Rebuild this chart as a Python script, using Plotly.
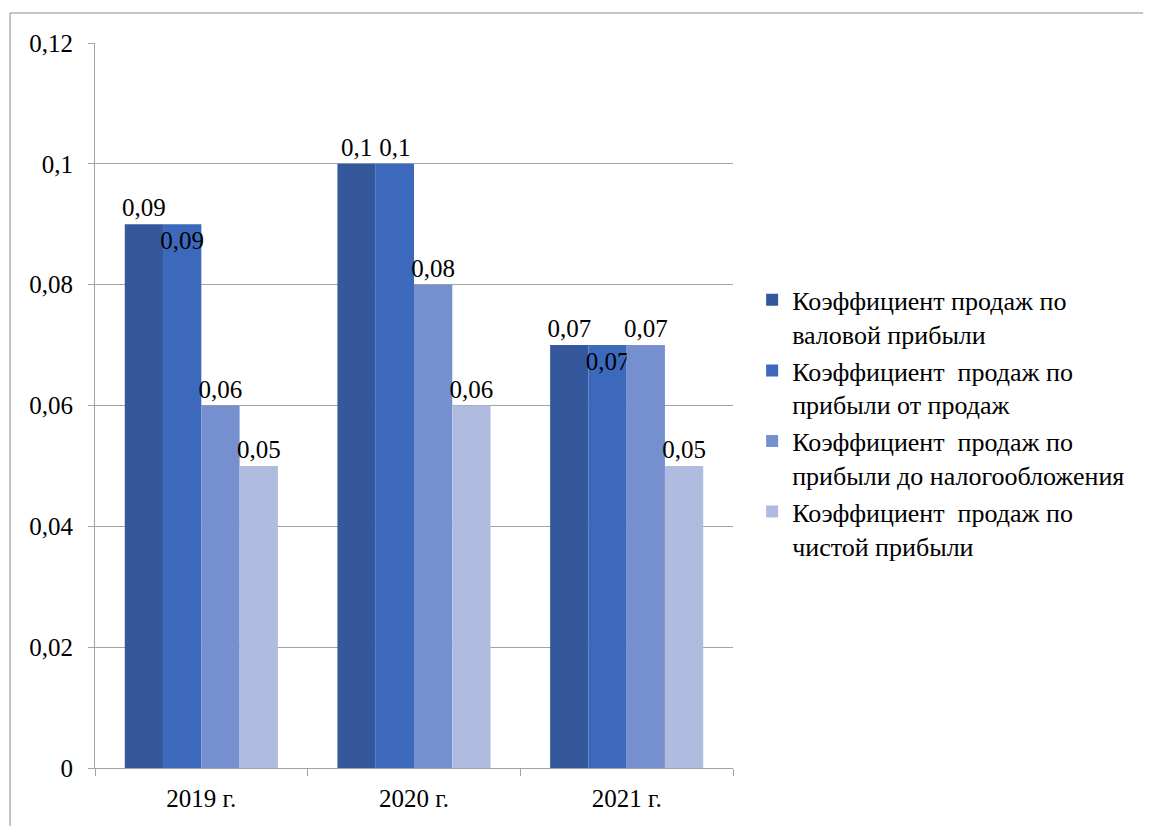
import plotly.graph_objects as go

# Data
YEARS = ["2019 г.", "2020 г.", "2021 г."]

SERIES_NAMES = [
    "Коэффициент продаж по<br>валовой прибыли",
    "Коэффициент  продаж по<br>прибыли от продаж",
    "Коэффициент  продаж по<br>прибыли до налогообложения",
    "Коэффициент  продаж по<br>чистой прибыли",
]
GROSS_PROFIT = [0.09, 0.10, 0.07]
SALES_PROFIT = [0.09, 0.10, 0.07]
PRETAX_PROFIT = [0.06, 0.08, 0.07]
NET_PROFIT = [0.05, 0.06, 0.05]

Y_TICKS = [0, 0.02, 0.04, 0.06, 0.08, 0.10, 0.12]

COLORS = ["#35589c", "#3d69bd", "#7690cf", "#b0bbe0"]
# where each label sits (the reference pushes two labels into the bar)
LABEL_POS = [
    ["outside", "outside", "outside"],
    ["inside", "outside", "inside"],
    ["outside", "outside", "outside"],
    ["outside", "outside", "outside"],
]

FONT = "Liberation Serif"
GRID = "#a3a3a3"


def fmt(v):
    return str(round(v, 4)).replace(".", ",")


fig = go.Figure()
for name, vals, color, pos in zip(SERIES_NAMES,
                                  [GROSS_PROFIT, SALES_PROFIT, PRETAX_PROFIT, NET_PROFIT],
                                  COLORS, LABEL_POS):
    fig.add_trace(go.Bar(
        x=YEARS, y=vals, name=name,
        marker=dict(color=color, line=dict(width=0)),
        text=[fmt(v) for v in vals],
        textposition=pos,
        insidetextanchor="end",
        textangle=0,
        constraintext="none",
        cliponaxis=False,
        textfont=dict(family=FONT, size=25, color="black"),
        insidetextfont=dict(family=FONT, size=25, color="black"),
        outsidetextfont=dict(family=FONT, size=25, color="black"),
    ))

# outer chart frame
fig.add_shape(type="rect", xref="paper", yref="paper",
              x0=-0.1332, x1=1.7, y0=-0.2, y1=1.0414,
              line=dict(color="#8c8c8c", width=1), layer="below")

# page body adds 8px, so the figure is a bit smaller than the window
fig.update_layout(
    width=1143, height=818,
    margin=dict(l=87, r=418, t=35, b=58),
    paper_bgcolor="white", plot_bgcolor="white",
    barmode="group", bargap=0.28, bargroupgap=0,
    separators=", ",
    font=dict(family=FONT, size=25, color="black"),
    showlegend=True,
    legend=dict(
        x=1.03, y=0.476, xanchor="left", yanchor="middle",
        font=dict(family=FONT, size=26, color="black"),
        valign="top", itemwidth=30, tracegroupgap=0,
        traceorder="grouped",
        bgcolor="rgba(0,0,0,0)",
    ),
    xaxis=dict(
        showgrid=False, showline=True, linecolor=GRID, linewidth=1,
        ticks="outside", tickson="boundaries", ticklen=7, tickcolor=GRID,
        ticklabelstandoff=8,
        tickfont=dict(family=FONT, size=25, color="black"),
    ),
    yaxis=dict(
        range=[0, 0.12], tickvals=Y_TICKS,
        ticktext=[fmt(v) for v in Y_TICKS],
        showgrid=True, gridcolor=GRID, gridwidth=1,
        showline=True, linecolor=GRID, linewidth=1,
        ticks="outside", ticklen=6, tickcolor=GRID,
        ticklabelstandoff=10, zeroline=False,
        tickfont=dict(family=FONT, size=25, color="black"),
    ),
)
# each series in its own legend group
for i, tr in enumerate(fig.data):
    tr.legendgroup = f"g{i}"

fig.write_html("out.html")
